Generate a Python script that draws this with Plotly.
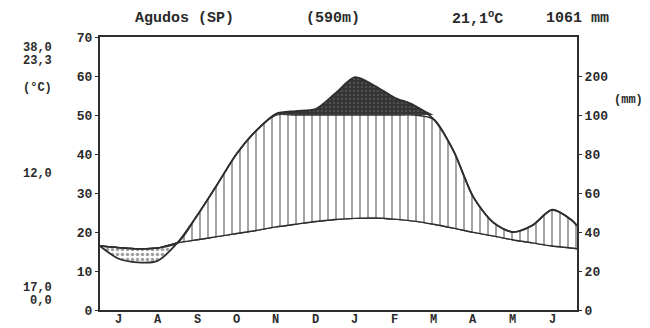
import plotly.graph_objects as go

# ---- data (month positions: 0 = July ... 11 = June) ----
month_labels = ['J', 'A', 'S', 'O', 'N', 'D', 'J', 'F', 'M', 'A', 'M', 'J']
sample_pos = [-0.46, 0, 0.5, 1, 1.5, 2, 2.5, 3, 3.5, 4, 4.5, 5, 5.5, 6,
              6.5, 7, 7.5, 8, 8.5, 9, 9.5, 10, 10.5, 11, 11.5, 11.63]
temp_c = [16.4, 16.0, 15.7, 15.9, 17.2, 18.0, 18.8, 19.6, 20.4, 21.3, 22.0,
          22.7, 23.2, 23.5, 23.6, 23.3, 22.8, 22.0, 21.0, 19.9, 19.0, 18.0,
          17.2, 16.4, 15.9, 15.7]
precip_mm = [32.8, 26.4, 24.4, 25.2, 34.4, 48.4, 64, 80, 92, 103, 110, 115,
             155, 197, 175, 145, 125, 97.8, 81.6, 58, 45, 40, 43.4, 51.4,
             46, 43.2]
left_ticks = [0, 10, 20, 30, 40, 50, 60, 70]
right_tick_pos = [0, 10, 20, 30, 40, 50, 60]
right_tick_text = ['0', '20', '40', '60', '80', '100', '200']


def mm_to_scale(v):
    # Walter-Lieth: 20 mm = 10 degC up to 100 mm, then compressed
    return v / 2.0 if v <= 100 else 50 + (v - 100) / 10.0


p_sc = [mm_to_scale(v) for v in precip_mm]
dry_y = [min(p, t) for p, t in zip(p_sc, temp_c)]
wet_y = [min(max(p, t), 50) for p, t in zip(p_sc, temp_c)]
# span of the >100 mm part
above = [k for k, p in enumerate(p_sc) if p >= 50]
k0, k1 = above[0], min(above[-1] + 1, len(p_sc) - 1)
dark_x = sample_pos[k0:k1 + 1]
dark_y = [max(p, 50) for p in p_sc[k0:k1 + 1]]
fifty = [50 for _ in dark_x]

INK = '#2e2e2e'
FONT = dict(family='Liberation Mono', size=15, color='#2a2a2a', weight='bold')
SMALL = dict(family='Liberation Mono', size=13, color='#2a2a2a', weight='bold')
SIDE = dict(family='Liberation Mono', size=12, color='#2a2a2a', weight='bold')
MON = dict(family='Liberation Mono', size=12, color='#2a2a2a', weight='bold')
shape = dict(shape='spline', smoothing=0.8)

fig = go.Figure()
fig.add_trace(go.Scatter(x=sample_pos, y=temp_c, mode='lines',
                         line=dict(color=INK, width=1.4, **shape), hoverinfo='skip'))
# dry season (dotted)
fig.add_trace(go.Scatter(x=sample_pos, y=dry_y, mode='lines', fill='tonexty',
                         fillcolor='white',
                         fillpattern=dict(shape='.', size=5, solidity=0.4,
                                          fgcolor='#444', bgcolor='white'),
                         line=dict(color=INK, width=0, **shape), hoverinfo='skip'))
# temperature again as base for wet hatching
fig.add_trace(go.Scatter(x=sample_pos, y=temp_c, mode='lines',
                         line=dict(color=INK, width=0, **shape), hoverinfo='skip'))
fig.add_trace(go.Scatter(x=sample_pos, y=wet_y, mode='lines', fill='tonexty',
                         fillcolor='white',
                         fillpattern=dict(shape='|', size=8, solidity=0.2,
                                          fgcolor='#1a1a1a', bgcolor='white'),
                         line=dict(color=INK, width=1.6, **shape), hoverinfo='skip'))
# very wet (> 100 mm) dark fill
fig.add_trace(go.Scatter(x=dark_x, y=fifty, mode='lines',
                         line=dict(color=INK, width=0), hoverinfo='skip'))
fig.add_trace(go.Scatter(x=dark_x, y=dark_y, mode='lines', fill='tonexty',
                         fillcolor='#353535',
                         fillpattern=dict(shape='.', size=4, solidity=0.22,
                                          fgcolor='#7a7a7a', bgcolor='#353535'),
                         line=dict(color=INK, width=0, **shape), hoverinfo='skip'))
# precipitation outline
fig.add_trace(go.Scatter(x=sample_pos, y=p_sc, mode='lines',
                         line=dict(color=INK, width=1.8, **shape), hoverinfo='skip'))
fig.add_trace(go.Scatter(x=sample_pos, y=temp_c, mode='lines',
                         line=dict(color=INK, width=1.4, **shape), hoverinfo='skip'))
# invisible trace to activate the right axis
fig.add_trace(go.Scatter(x=[0], y=[0], yaxis='y2', mode='markers',
                         marker=dict(opacity=0), showlegend=False, hoverinfo='skip'))

L, R, T, B = 100, 577, 37, 310
W, H = 650, 328


def px(x, y):
    return (x - L) / (R - L), (B - y) / (B - T)


annots = [
    ('Agudos (SP)', 184, 18, 'center', FONT),
    ('(590m)', 333, 18, 'center', FONT),
    ('21,1<sup>o</sup>C', 477, 18, 'center', FONT),
    ('1061 mm', 577, 18, 'center', FONT),
    ('38,0', 54, 48, 'right', SIDE),
    ('23,3', 54, 61, 'right', SIDE),
    ('(°C)', 54, 88, 'right', SIDE),
    ('12,0', 54, 174, 'right', SIDE),
    ('17,0', 54, 288, 'right', SIDE),
    ('0,0', 54, 301, 'right', SIDE),
    ('(mm)', 612, 100, 'left', SIDE),
]
for txt, x, y, al, f in annots:
    ax, ay = px(x, y)
    fig.add_annotation(text=txt, x=ax, y=ay, xref='paper', yref='paper',
                       xanchor=al, yanchor='middle', showarrow=False, font=f)

# month labels placed on the x axis scale
_, mon_y = px(0, 320)
for k, m in enumerate(month_labels):
    fig.add_annotation(text=m, x=k, y=mon_y, xref='x', yref='paper',
                       xanchor='center', yanchor='middle', showarrow=False,
                       font=MON)

fig.update_layout(
    width=W, height=H, margin=dict(l=L, r=W - R, t=T, b=H - B, autoexpand=False),
    paper_bgcolor='white', plot_bgcolor='white', showlegend=False,
    font=FONT,
    xaxis=dict(range=[-0.46, 11.63], tickvals=list(range(12)), showticklabels=False,
               showgrid=False, zeroline=False, showline=True, mirror=True,
               linecolor=INK, linewidth=1.8, ticks='', automargin=False),
    yaxis=dict(range=[0, 70], tickvals=left_ticks, showgrid=False, zeroline=False,
               showline=True, linecolor=INK, linewidth=2, ticks='outside',
               ticklen=3, tickcolor=INK, tickfont=SMALL, automargin=False),
    yaxis2=dict(range=[0, 70], tickvals=right_tick_pos, ticktext=right_tick_text,
                overlaying='y', side='right', showgrid=False, zeroline=False,
                showline=True, linecolor=INK, linewidth=2, ticks='outside',
                ticklen=3, tickcolor=INK, tickfont=SMALL, automargin=False),
)

fig.write_html('out.html')
